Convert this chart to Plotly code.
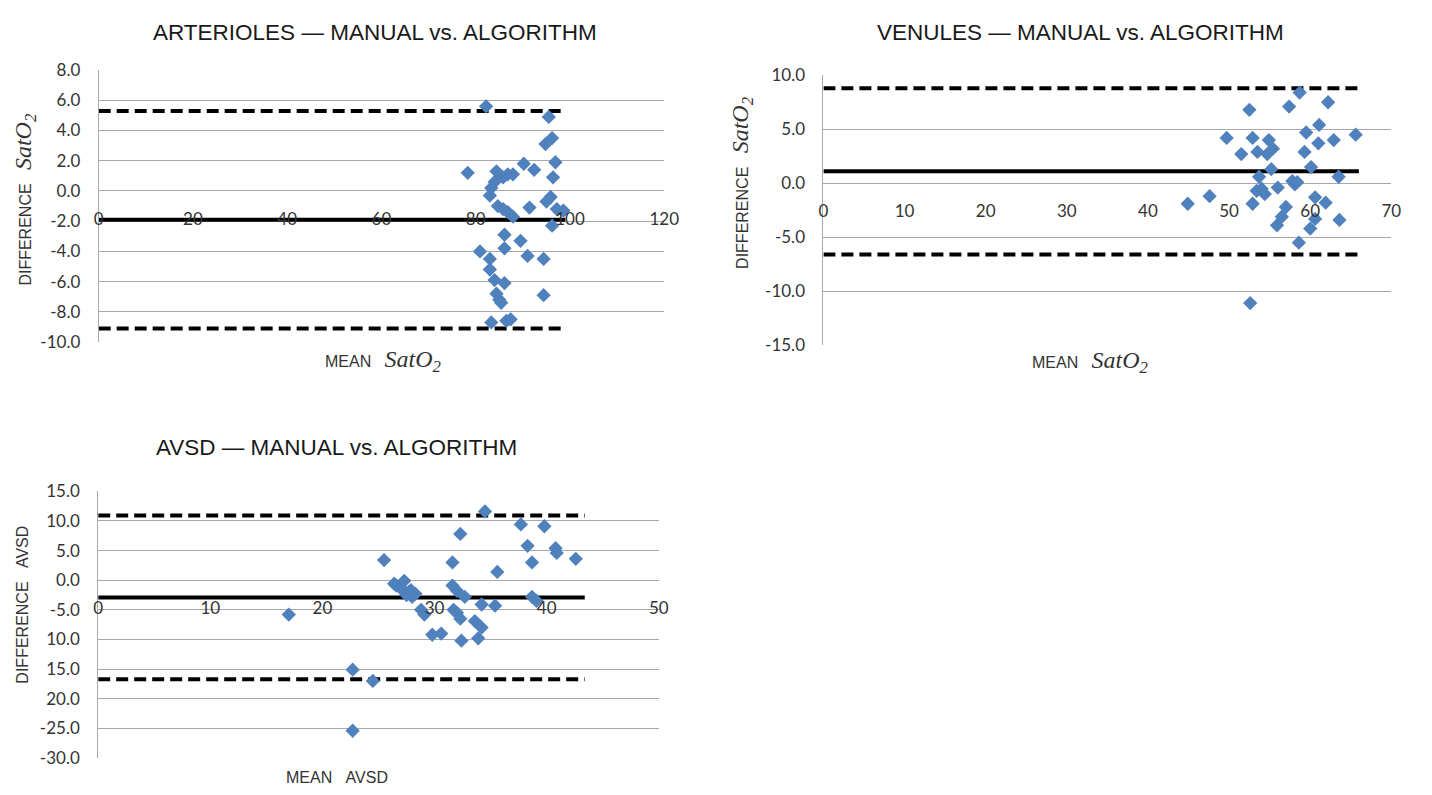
import plotly.graph_objects as go

W, H = 1432, 795

# ---------------- data ----------------
# Arterioles
art_mean = [82.2, 95.5, 96.2, 94.8, 78.3, 84.4, 85.8, 86.8, 87.9, 90.2, 92.4, 96.9, 96.4, 84.0, 83.3,
            83.0, 95.9, 95.0, 84.7, 91.4, 85.8, 86.8, 87.9, 97.2, 98.6, 96.2, 86.1, 89.5, 80.9, 86.1,
            83.0, 91.0, 94.4, 83.0, 84.0, 86.1, 84.4, 85.0, 85.4, 94.4, 83.3, 86.5, 87.4]
art_diff = [5.6, 4.9, 3.5, 3.1, 1.2, 1.3, 0.9, 1.1, 1.1, 1.8, 1.4, 1.9, 0.9, 0.6, 0.2,
            -0.3, -0.4, -0.7, -1.0, -1.1, -1.2, -1.4, -1.7, -1.2, -1.3, -2.3, -2.9, -3.3, -4.0, -3.8,
            -4.5, -4.3, -4.5, -5.2, -5.9, -6.1, -6.8, -7.2, -7.4, -6.9, -8.7, -8.6, -8.5]
art_bias, art_upper, art_lower = -1.9, 5.3, -9.1
art_line_x = [0, 99]
art_yticks = [8, 6, 4, 2, 0, -2, -4, -6, -8, -10]
art_ylabels = ["8.0", "6.0", "4.0", "2.0", "0.0", "-2.0", "-4.0", "-6.0", "-8.0", "-10.0"]
art_xticks = [0, 20, 40, 60, 80, 100, 120]

# Venules
ven_mean = [44.9, 47.6, 49.7, 51.5, 52.5, 52.9, 52.9, 52.6, 53.5, 53.7, 53.4, 54.0, 54.4, 54.7, 54.9,
            55.4, 55.2, 55.9, 56.0, 56.5, 57.0, 57.4, 57.8, 58.1, 58.4, 58.7, 58.6, 59.3, 59.5, 60.1,
            60.6, 60.6, 60.0, 61.0, 61.1, 61.9, 62.2, 62.9, 63.5, 63.6, 65.6]
ven_diff = [-1.9, -1.2, 4.2, 2.7, 6.8, 4.2, -1.9, -11.1, 2.9, 0.6, -0.7, -0.5, -1.0, 2.7, 4.0,
            3.2, 1.3, -3.9, -0.4, -3.1, -2.2, 7.1, 0.2, -0.1, 0.1, 8.4, -5.5, 2.9, 4.7, 1.5,
            -1.3, -3.3, -4.2, 3.7, 5.4, -1.8, 7.5, 4.0, 0.6, -3.4, 4.5]
ven_bias, ven_upper, ven_lower = 1.1, 8.8, -6.6
ven_line_x = [0, 66]
ven_yticks = [10, 5, 0, -5, -10, -15]
ven_ylabels = ["10.0", "5.0", "0.0", "-5.0", "-10.0", "-15.0"]
ven_xticks = [0, 10, 20, 30, 40, 50, 60, 70]

# AVSD
avsd_mean = [17.0, 22.7, 22.7, 24.5, 25.5, 26.4, 26.6, 26.9, 27.1, 27.3, 27.5, 27.7, 27.9, 28.0, 28.3,
             28.8, 29.1, 29.8, 30.6, 31.6, 31.6, 32.0, 32.7, 31.7, 32.0, 32.3, 32.4, 32.3, 33.6, 34.2,
             33.9, 34.2, 34.5, 35.4, 35.6, 37.7, 38.3, 38.7, 38.7, 39.1, 39.8, 40.8, 40.9, 42.6]
avsd_diff = [-5.8, -15.1, -25.4, -17.0, 3.4, -0.6, -0.9, -1.2, -1.5, -0.1, -2.5, -2.0, -1.7, -2.8, -2.3,
             -5.0, -5.8, -9.2, -9.0, 3.0, -0.9, -1.8, -2.8, -5.0, -5.5, -6.5, -10.2, 7.8, -6.9, -8.0,
             -9.8, -4.1, 11.6, -4.3, 1.4, 9.4, 5.8, 3.0, -2.8, -3.5, 9.1, 5.4, 4.6, 3.6]
avsd_bias, avsd_upper, avsd_lower = -2.9, 10.9, -16.7
avsd_line_x = [0, 43.4]
avsd_yticks = [15, 10, 5, 0, -5, -10, -15, -20, -25, -30]
avsd_ylabels = ["15.0", "10.0", "5.0", "0.0", "-5.0", "10.0", "15.0", "20.0", "-25.0", "-30.0"]
avsd_xticks = [0, 10, 20, 30, 40, 50]

# ---------------- styling / layout ----------------
BLUE = "#4F81BD"
GRID = "#a8a8a8"
TICKFONT = dict(family="Lato, 'Liberation Sans', sans-serif", size=17, color="#333333")
TITLEFONT = dict(family="'Liberation Sans', Arial, sans-serif", size=22.5, color="#1a1a1a")
AXTFONT = dict(family="'Liberation Sans', Arial, sans-serif", size=16, color="#333333")
SAT = ("<span style=\"font-family:'Liberation Serif',serif;font-style:italic;font-size:24px\">"
       "SatO<sub>2</sub></span>")
NB = "\u00a0\u00a0\u00a0"

# panels: pixel boxes in the 1432x795 reference frame (left, right, top, bottom)
panels = [
    dict(name="ARTERIOLES", box=(95, 668.6, 60.7, 340), xr=[0, 120], yr=[-10, 8],
         mean=art_mean, diff=art_diff, bias=art_bias, up=art_upper, lo=art_lower, lx=art_line_x,
         yt=art_yticks, yl=art_ylabels, xt=art_xticks,
         title_xy=(375, 22), ytitle_xy=(20, 193), xtitle_xy=(384, 360),
         ytitle="DIFFERENCE" + NB + SAT, xtitle="MEAN" + NB + SAT),
    dict(name="VENULES", box=(830, 1406, 66, 343.3), xr=[0, 70], yr=[-15, 10],
         mean=ven_mean, diff=ven_diff, bias=ven_bias, up=ven_upper, lo=ven_lower, lx=ven_line_x,
         yt=ven_yticks, yl=ven_ylabels, xt=ven_xticks,
         title_xy=(1091, 22), ytitle_xy=(748, 176), xtitle_xy=(1101, 361),
         ytitle="DIFFERENCE" + NB + SAT, xtitle="MEAN" + NB + SAT),
    dict(name="AVSD", box=(94.5, 663, 493.3, 767.3), xr=[0, 50], yr=[-30, 15],
         mean=avsd_mean, diff=avsd_diff, bias=avsd_bias, up=avsd_upper, lo=avsd_lower, lx=avsd_line_x,
         yt=avsd_yticks, yl=avsd_ylabels, xt=avsd_xticks,
         title_xy=(336, 448), ytitle_xy=(18, 610), xtitle_xy=(337, 787),
         ytitle="DIFFERENCE" + NB + "AVSD", xtitle="MEAN" + NB + "AVSD"),
]

fig = go.Figure()
layout = dict(autosize=True, margin=dict(l=0, r=0, t=0, b=0, pad=0),
              paper_bgcolor="white", plot_bgcolor="white", showlegend=False)
annotations = []

for i, p in enumerate(panels):
    n = "" if i == 0 else str(i + 1)
    xa, ya = "x" + n, "y" + n
    l, r, t, b = p["box"]
    xdom = [l / W, r / W]
    ydom = [1 - b / H, 1 - t / H]
    y0, y1 = p["yr"]
    zero_pos = ydom[0] + (0 - y0) / (y1 - y0) * (ydom[1] - ydom[0])

    layout["xaxis" + n] = dict(domain=xdom, range=p["xr"], anchor="free", position=zero_pos,
                               showgrid=False, zeroline=False, showline=False,
                               tickmode="array", tickvals=p["xt"], ticktext=[str(v) for v in p["xt"]],
                               ticks="", ticklabelstandoff=16, tickfont=TICKFONT, fixedrange=True)
    layout["yaxis" + n] = dict(domain=ydom, range=p["yr"], anchor=xa,
                               showgrid=True, gridcolor=GRID, gridwidth=1, zeroline=False,
                               showline=True, linecolor=GRID, linewidth=1,
                               tickmode="array", tickvals=p["yt"], ticktext=p["yl"],
                               ticks="", ticklabelstandoff=14, tickfont=TICKFONT, fixedrange=True)

    # limits of agreement and bias
    for val, dash in [(p["up"], "12px,6px"), (p["lo"], "12px,6px"), (p["bias"], "solid")]:
        fig.add_trace(go.Scatter(x=p["lx"], y=[val, val], mode="lines", xaxis=xa, yaxis=ya,
                                 line=dict(color="black", width=4, dash=dash), hoverinfo="skip"))
    # points
    fig.add_trace(go.Scatter(x=p["mean"], y=p["diff"], mode="markers", xaxis=xa, yaxis=ya,
                             marker=dict(symbol="diamond", size=11, color=BLUE,
                                         line=dict(width=0))))

    tx, ty = p["title_xy"]
    annotations.append(dict(text=p["name"] + " \u2014 MANUAL vs. ALGORITHM", x=tx / W, y=1 - ty / H,
                            xref="paper", yref="paper", showarrow=False, font=TITLEFONT,
                            xanchor="center", yanchor="middle"))
    yx, yy = p["ytitle_xy"]
    annotations.append(dict(text=p["ytitle"], x=yx / W, y=1 - yy / H, xref="paper", yref="paper",
                            showarrow=False, font=AXTFONT, textangle=-90,
                            xanchor="center", yanchor="middle"))
    xx, xy = p["xtitle_xy"]
    annotations.append(dict(text=p["xtitle"], x=xx / W, y=1 - xy / H, xref="paper", yref="paper",
                            showarrow=False, font=AXTFONT, xanchor="center", yanchor="middle"))

layout["annotations"] = annotations
fig.update_layout(**layout)
fig.write_html("out.html", config={"displayModeBar": False, "responsive": True},
               default_width="100vw", default_height="100vh",
               post_script="document.body.style.margin='0';document.body.style.overflow='hidden';")
